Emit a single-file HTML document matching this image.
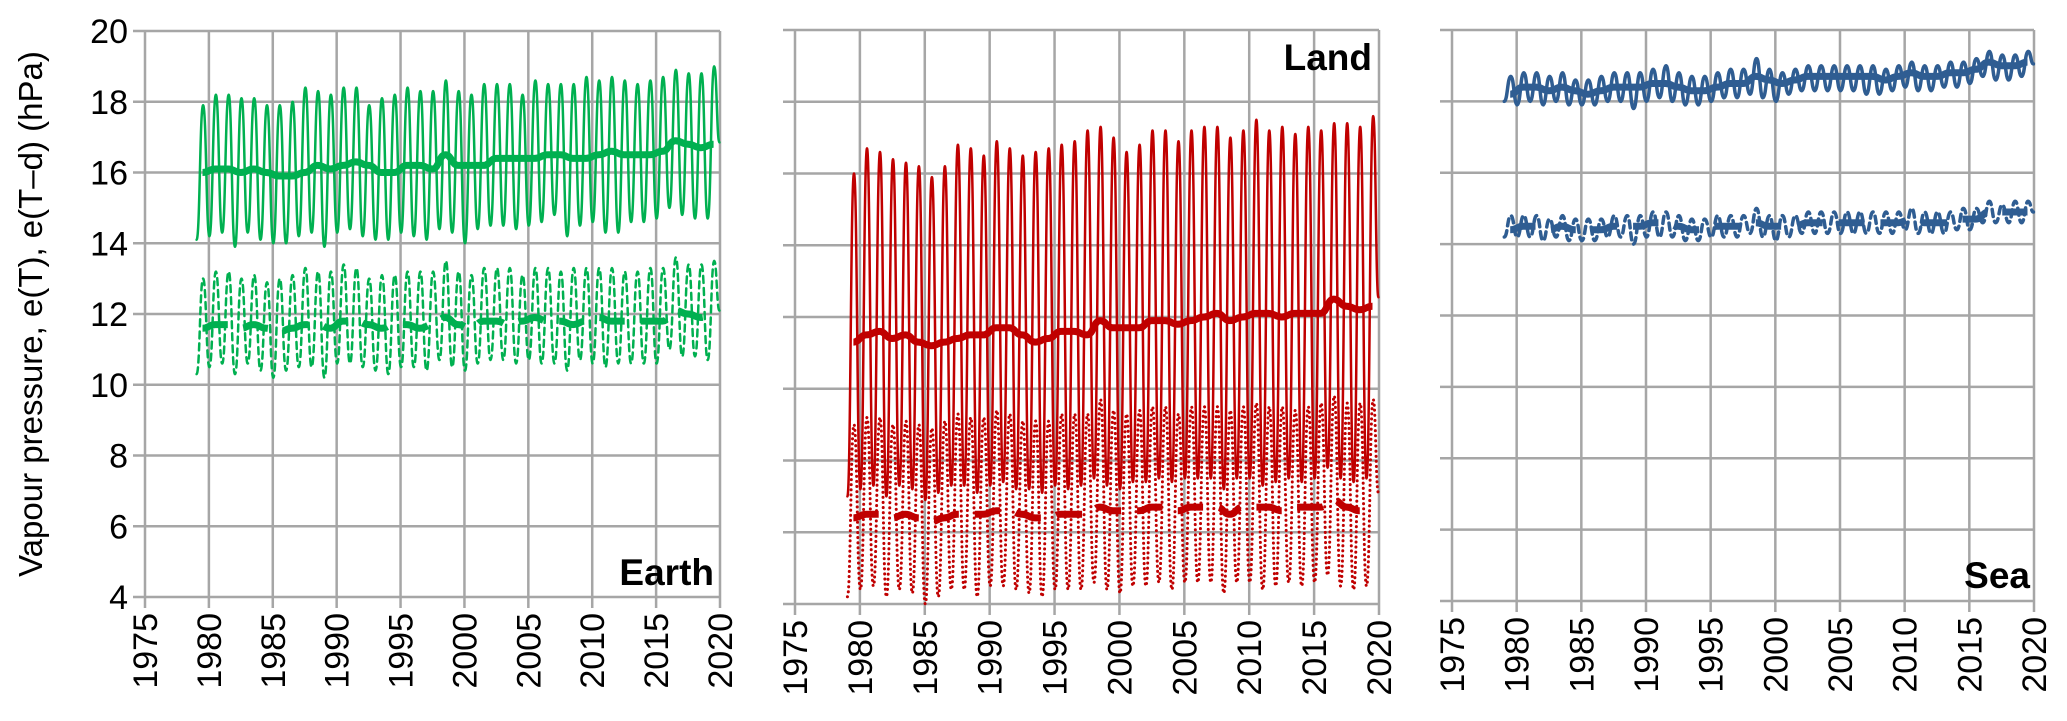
<!DOCTYPE html>
<html><head><meta charset="utf-8">
<style>
html,body{margin:0;padding:0;background:#fff;}
svg{display:block;font-family:"Liberation Sans",sans-serif;}
</style></head>
<body>
<svg id="chart" width="2067" height="721" viewBox="0 0 2067 721" xmlns="http://www.w3.org/2000/svg">
<text transform="translate(42,314) rotate(-90)" text-anchor="middle" font-size="33" fill="#000">Vapour pressure, e(T), e(T–d) (hPa)</text>
</svg>
<script>
const years = [1979,1980,1981,1982,1983,1984,1985,1986,1987,1988,1989,1990,1991,1992,1993,1994,1995,1996,1997,1998,1999,2000,2001,2002,2003,2004,2005,2006,2007,2008,2009,2010,2011,2012,2013,2014,2015,2016,2017,2018,2019];
const yTicks = [4,6,8,10,12,14,16,18,20];
const xTicks = [1975,1980,1985,1990,1995,2000,2005,2010,2015,2020];

const earthTPeak = [17.9,18.2,18.2,18.1,18.1,17.9,17.9,18.0,18.4,18.3,18.2,18.4,18.4,17.9,18.1,18.2,18.4,18.3,18.3,18.6,18.3,18.2,18.5,18.5,18.5,18.2,18.6,18.5,18.5,18.5,18.7,18.6,18.7,18.6,18.5,18.6,18.7,18.9,18.8,18.8,19.0];
const earthTTrough = [14.1,14.2,14.3,13.9,14.3,14.1,14.0,14.0,14.2,14.3,13.9,14.3,14.4,14.2,14.1,14.1,14.3,14.2,14.1,14.4,14.3,14.0,14.4,14.5,14.5,14.4,14.5,14.6,14.8,14.2,14.5,14.6,14.3,14.3,14.6,14.6,14.7,15.0,14.8,14.7,14.7];
const earthTMean = [16.0,16.1,16.1,16.0,16.1,16.0,15.9,15.9,16.0,16.2,16.1,16.2,16.3,16.2,16.0,16.0,16.2,16.2,16.1,16.5,16.2,16.2,16.2,16.4,16.4,16.4,16.4,16.5,16.5,16.4,16.4,16.5,16.6,16.5,16.5,16.5,16.6,16.9,16.8,16.7,16.8];
const earthDPeak = [13.0,13.2,13.2,13.0,13.1,12.9,13.0,13.1,13.3,13.2,13.2,13.4,13.3,13.0,13.1,13.1,13.2,13.2,13.2,13.5,13.2,13.1,13.3,13.3,13.3,13.1,13.3,13.3,13.2,13.3,13.3,13.3,13.3,13.2,13.2,13.3,13.3,13.6,13.4,13.4,13.5];
const earthDTrough = [10.3,10.5,10.6,10.3,10.6,10.4,10.2,10.4,10.5,10.5,10.2,10.6,10.6,10.5,10.4,10.3,10.5,10.5,10.4,10.7,10.5,10.4,10.6,10.7,10.7,10.6,10.7,10.6,10.6,10.4,10.7,10.6,10.5,10.6,10.6,10.6,10.6,11.0,10.8,10.8,10.7];
const earthDMean = [11.6,11.7,11.7,11.6,11.7,11.6,11.5,11.6,11.7,11.7,11.6,11.8,11.8,11.7,11.6,11.7,11.7,11.6,11.7,11.9,11.7,11.6,11.8,11.8,11.7,11.8,11.9,11.8,11.8,11.7,11.8,11.9,11.8,11.8,11.8,11.8,11.8,12.1,12.0,11.9,12.0];

const landTPeak = [16.0,16.7,16.6,16.4,16.3,16.2,15.9,16.2,16.8,16.7,16.5,16.9,16.7,16.5,16.6,16.7,16.8,16.9,17.2,17.3,17.0,16.6,16.8,17.2,17.2,16.9,17.2,17.3,17.3,17.0,17.2,17.5,17.2,17.3,17.1,17.3,17.2,17.4,17.4,17.3,17.6];
const landTTrough = [7.0,7.2,7.3,7.0,7.3,7.2,6.9,7.1,7.3,7.3,7.1,7.3,7.4,7.2,7.2,7.1,7.3,7.2,7.3,7.5,7.3,7.2,7.4,7.4,7.5,7.4,7.5,7.5,7.5,7.2,7.5,7.5,7.3,7.4,7.5,7.4,7.5,7.8,7.5,7.4,7.5];
const landTMean = [11.3,11.5,11.6,11.4,11.5,11.3,11.2,11.3,11.4,11.5,11.5,11.7,11.7,11.5,11.3,11.4,11.6,11.6,11.5,11.9,11.7,11.7,11.7,11.9,11.9,11.8,11.9,12.0,12.1,11.9,12.0,12.1,12.1,12.0,12.1,12.1,12.1,12.5,12.3,12.2,12.3];
const landDPeak = [9.0,9.2,9.2,9.0,9.1,9.0,8.9,9.1,9.3,9.2,9.2,9.4,9.3,9.1,9.1,9.1,9.3,9.3,9.3,9.7,9.4,9.3,9.4,9.5,9.5,9.3,9.5,9.5,9.5,9.4,9.5,9.6,9.5,9.5,9.4,9.5,9.6,9.8,9.6,9.6,9.7];
const landDTrough = [4.2,4.4,4.5,4.2,4.4,4.3,4.0,4.2,4.4,4.4,4.2,4.5,4.5,4.4,4.3,4.2,4.4,4.4,4.4,4.6,4.4,4.3,4.5,4.5,4.6,4.4,4.6,4.6,4.6,4.3,4.6,4.6,4.4,4.5,4.6,4.5,4.6,4.8,4.5,4.4,4.5];
const landDMean = [6.4,6.5,6.5,6.4,6.5,6.4,6.3,6.4,6.5,6.5,6.5,6.6,6.6,6.5,6.4,6.4,6.5,6.5,6.5,6.7,6.6,6.6,6.6,6.7,6.7,6.6,6.7,6.7,6.7,6.5,6.7,6.7,6.7,6.6,6.7,6.7,6.7,6.9,6.7,6.6,6.7];

const seaTPeak = [18.7,18.8,18.8,18.7,18.8,18.6,18.6,18.7,18.8,18.8,18.8,18.9,19.0,18.8,18.7,18.7,18.8,18.9,18.9,19.2,18.9,18.8,18.9,19.0,19.0,19.0,19.0,19.0,19.0,18.9,19.0,19.1,19.0,19.0,19.1,19.1,19.2,19.4,19.3,19.3,19.4];
const seaTTrough = [18.0,17.9,18.0,17.9,18.0,17.9,17.9,17.9,18.0,18.0,17.8,18.0,18.1,18.0,17.9,17.9,18.0,18.1,18.1,18.2,18.1,18.0,18.2,18.3,18.3,18.3,18.3,18.3,18.2,18.2,18.3,18.4,18.3,18.3,18.4,18.4,18.5,18.7,18.6,18.6,18.7];
const seaTMean = [18.2,18.4,18.4,18.3,18.4,18.3,18.2,18.3,18.4,18.4,18.4,18.5,18.5,18.4,18.3,18.3,18.4,18.5,18.5,18.7,18.6,18.5,18.6,18.7,18.7,18.7,18.7,18.7,18.7,18.6,18.7,18.8,18.7,18.7,18.8,18.8,18.9,19.1,19.0,19.0,19.1];
const seaDPeak = [14.8,14.8,14.8,14.7,14.8,14.7,14.7,14.7,14.8,14.8,14.8,14.9,14.9,14.8,14.7,14.7,14.8,14.8,14.8,15.0,14.8,14.8,14.8,14.9,14.9,14.9,14.9,14.9,14.9,14.9,14.9,15.0,14.9,14.9,14.9,15.0,15.0,15.2,15.1,15.2,15.2];
const seaDTrough = [14.2,14.2,14.2,14.1,14.2,14.1,14.1,14.1,14.2,14.2,14.0,14.2,14.2,14.2,14.1,14.1,14.2,14.2,14.2,14.3,14.2,14.1,14.2,14.3,14.3,14.3,14.3,14.3,14.3,14.3,14.3,14.4,14.3,14.3,14.3,14.4,14.4,14.6,14.6,14.6,14.6];
const seaDMean = [14.4,14.5,14.5,14.4,14.5,14.4,14.4,14.4,14.5,14.5,14.5,14.6,14.6,14.5,14.4,14.4,14.5,14.5,14.5,14.6,14.5,14.5,14.5,14.6,14.6,14.6,14.6,14.6,14.6,14.6,14.6,14.7,14.6,14.6,14.6,14.7,14.7,14.9,14.9,14.9,14.9];

const NS = "http://www.w3.org/2000/svg";
const svg = document.getElementById('chart');
function mk(tag, attrs, parent){
  const e = document.createElementNS(NS, tag);
  for (const k in attrs) e.setAttribute(k, attrs[k]);
  (parent||svg).appendChild(e);
  return e;
}
function smooth(pts){
  let d='M'+pts[0][0].toFixed(1)+','+pts[0][1].toFixed(1);
  for(let i=1;i<pts.length;i++){
    const a=pts[i-1], b=pts[i], mx=(a[0]+b[0])/2;
    d+=' C'+mx.toFixed(1)+','+a[1].toFixed(1)+' '+mx.toFixed(1)+','+b[1].toFixed(1)+' '+b[0].toFixed(1)+','+b[1].toFixed(1);
  }
  return d;
}

const panels = [
 {name:'earth', x0:145, x1:720, y0:31, y1:597, color:'#00b050', showY:true, label:'Earth', lx:714, ly:585,
  series:[
   {peak:earthTPeak, trough:earthTTrough, w:2.5, dash:null, name:'earth-e-t-line'},
   {peak:earthDPeak, trough:earthDTrough, w:2.5, dash:'7,5', name:'earth-e-td-line'}],
  means:[{v:earthTMean, dash:null, name:'earth-e-t-mean'},{v:earthDMean, dash:'26,16', name:'earth-e-td-mean'}]},
 {name:'land', x0:795, x1:1379, y0:30, y1:604, color:'#c00000', showY:false, label:'Land', lx:1372, ly:70,
  series:[
   {peak:landTPeak, trough:landTTrough, w:2.5, dash:null, name:'land-e-t-line'},
   {peak:landDPeak, trough:landDTrough, w:3, dash:'0.1,5', name:'land-e-td-line'}],
  means:[{v:landTMean, dash:null, name:'land-e-t-mean'},{v:landDMean, dash:'26,16', name:'land-e-td-mean'}]},
 {name:'sea', x0:1452, x1:2034, y0:30, y1:601, color:'#2f5d92', showY:false, label:'Sea', lx:2030, ly:588,
  series:[
   {peak:seaTPeak, trough:seaTTrough, w:3.5, dash:null, name:'sea-e-t-line'},
   {peak:seaDPeak, trough:seaDTrough, w:3.5, dash:'7,5', name:'sea-e-td-line'}],
  means:[{v:seaTMean, dash:null, name:'sea-e-t-mean'},{v:seaDMean, dash:'26,16', name:'sea-e-td-mean'}]}
];

panels.forEach(p=>{
  const g = mk('g',{});
  
  
  const xs = t => p.x0 + (t-1975)/45*(p.x1-p.x0);
  const ys = v => p.y1 - (v-4)/16*(p.y1-p.y0);
  yTicks.forEach(v=>{
    const l = mk('line',{x1:p.x0-12,x2:p.x1,y1:ys(v),y2:ys(v),stroke:'#a6a6a6','stroke-width':2.5},g);
    
    
    if(p.showY){
      const t = mk('text',{x:p.x0-17,y:ys(v)+12,'text-anchor':'end','font-size':34,fill:'#000'},g);
      
      
      t.textContent = v;
    }
  });
  xTicks.forEach(v=>{
    const l = mk('line',{x1:xs(v),x2:xs(v),y1:p.y0,y2:p.y1+11,stroke:'#a6a6a6','stroke-width':2.5},g);
    
    
    const t = mk('text',{transform:`translate(${xs(v)+12},${p.y1+16}) rotate(-90)`,'text-anchor':'end','font-size':34,fill:'#000'},g);
    
    
    t.textContent = v;
  });
  p.series.forEach(s=>{
    const pts=[];
    years.forEach((yr,i)=>{
      pts.push([xs(yr+0.04), ys(s.trough[i])]);
      pts.push([xs(yr+0.55), ys(s.peak[i])]);
    });
    pts.push([xs(2019.95), ys((s.peak[40]+s.trough[40])/2)]);
    const a={d:smooth(pts),fill:'none',stroke:p.color,'stroke-width':s.w,'stroke-linejoin':'round','stroke-linecap':'round'};
    if(s.dash) a['stroke-dasharray']=s.dash;
    const path = mk('path',a,g);
    
    
  });
  p.means.forEach(m=>{
    const pts=years.map((yr,i)=>[xs(yr+0.5), ys(m.v[i])]);
    const a={d:smooth(pts),fill:'none',stroke:p.color,'stroke-width':7,'stroke-linejoin':'round'};
    if(m.dash) a['stroke-dasharray']=m.dash;
    const path = mk('path',a,g);
    
    
  });
  const lab = mk('text',{x:p.lx,y:p.ly,'text-anchor':'end','font-size':37,'font-weight':'bold',fill:'#000'},g);
  
  
  lab.textContent = p.label;
});
</script>
</body></html>
